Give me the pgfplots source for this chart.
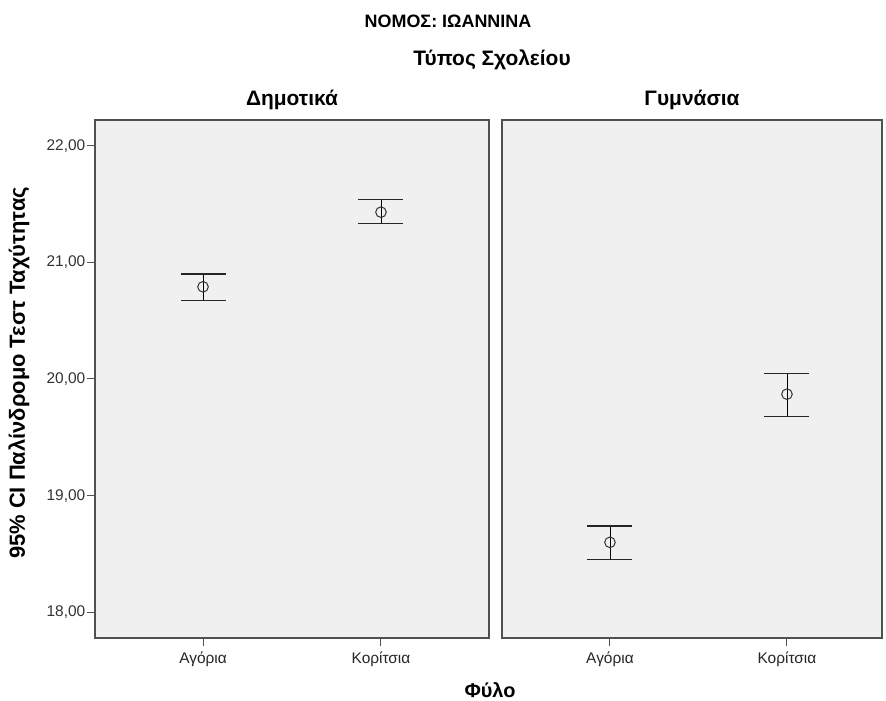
\documentclass[border=0pt]{standalone}
\usepackage{pgfplots}
\pgfplotsset{compat=1.18}
\usepackage{fontspec}
\setmainfont{Liberation Sans}
\definecolor{panelbg}{HTML}{F0F0F0}
\definecolor{frame}{HTML}{505050}
\begin{document}
\begin{tikzpicture}
\useasboundingbox[fill=white] (0bp,0bp) rectangle (886bp,701bp);
\pgfplotsset{
  panel/.style={
    scale only axis, height=518bp,
    ymin=17.78, ymax=22.22,
    axis background/.style={fill=panelbg},
    axis line style={draw=frame, line width=1.4bp},
    xtick={0,1}, xticklabels={Αγόρια,Κορίτσια},
    tick style={draw=frame, line width=1bp},
    major tick length=8bp,
    tick align=outside,
    xtick pos=bottom,
    x tick label style={font=\fontsize{15.5}{17}\selectfont, text=black!85, inner sep=1bp, yshift=-5bp},
    y tick label style={font=\fontsize{15.5}{17}\selectfont, text=black!80, inner sep=1.5bp},
    /pgf/number format/assume math mode=true,
    clip=false,
  },
  cibar/.style={
    only marks, black, line width=0.8bp, mark=o, mark size=5.3bp,
    mark options={line width=1bp, draw=black!80},
    error bars/y dir=both, error bars/y explicit,
    error bars/error mark options={rotate=90, line width=1.1bp, mark size=22.5bp, draw=black!85},
    error bars/error bar style={line width=0.9bp},
  },
}
% left panel
\begin{axis}[panel, at={(95bp,63bp)}, anchor=south west, width=394bp,
  xmin=-0.607, xmax=1.607,
  ytick={18,19,20,21,22}, yticklabels={{18,00},{19,00},{20,00},{21,00},{22,00}},
  ytick pos=left]
\addplot+[cibar] table[x=x, y=y, y error plus=ep, y error minus=em] {
x y ep em
0 20.79 0.11 0.12
1 21.43 0.11 0.10
};
\end{axis}
% right panel
\begin{axis}[panel, at={(502bp,63bp)}, anchor=south west, width=380bp,
  xmin=-0.61, xmax=1.537,
  ytick=\empty]
\addplot+[cibar] table[x=x, y=y, y error plus=ep, y error minus=em] {
x y ep em
0 18.60 0.14 0.15
1 19.87 0.18 0.19
};
\end{axis}
% titles and labels
\node[font=\bfseries\fontsize{18}{20}\selectfont] at (448bp,680bp) {ΝΟΜΟΣ: ΙΩΑΝΝΙΝΑ};
\node[font=\bfseries\fontsize{21}{24}\selectfont] at (492bp,641bp) {Τύπος Σχολείου};
\node[font=\bfseries\fontsize{21}{24}\selectfont] at (292bp,601bp) {Δημοτικά};
\node[font=\bfseries\fontsize{21}{24}\selectfont] at (692bp,601bp) {Γυμνάσια};
\node[font=\bfseries\fontsize{22}{24}\selectfont, rotate=90] at (19bp,328bp) {95\% CI Παλίνδρομο Τεστ Ταχύτητας};
\node[font=\bfseries\fontsize{20}{22}\selectfont] at (490bp,11bp) {Φύλο};
\end{tikzpicture}
\end{document}
